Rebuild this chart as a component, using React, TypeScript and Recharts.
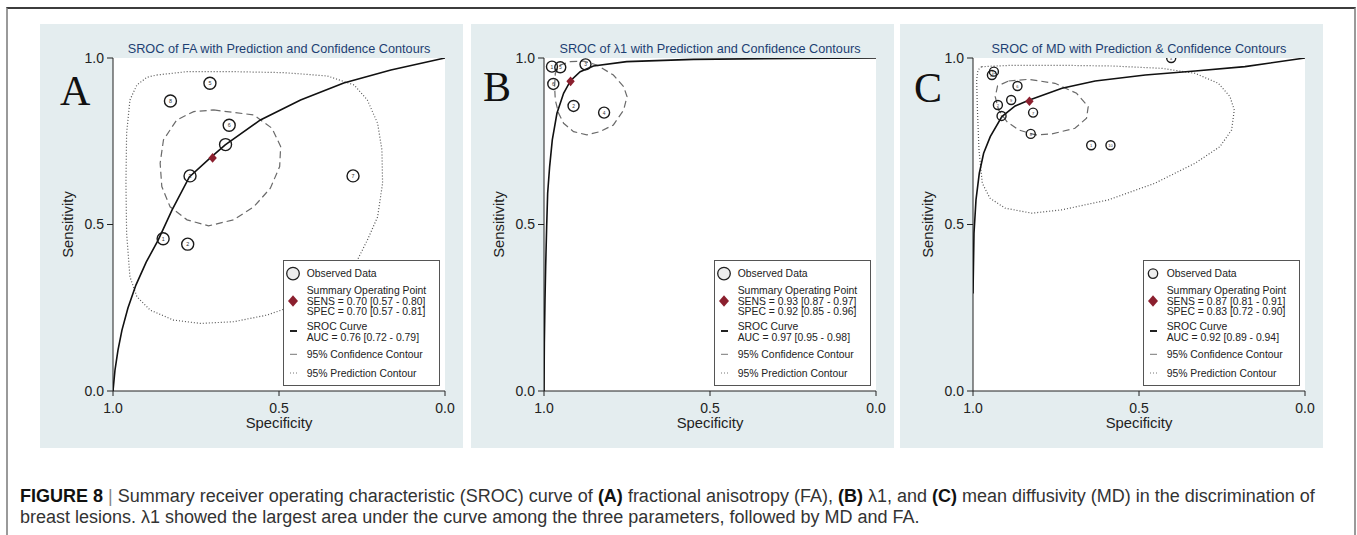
import React from 'react';
import { ScatterChart, Scatter, XAxis, YAxis } from 'recharts';

type Pt = { spec: number; sens: number; id?: string };

const axisTicks = [0, 0.5, 1];

// ---- panel A: FA ----
const obsA: Pt[] = [
  { id: '1', spec: 0.849, sens: 0.457 },
  { id: '2', spec: 0.775, sens: 0.441 },
  { id: '3', spec: 0.768, sens: 0.646 },
  { id: '', spec: 0.661, sens: 0.74 },
  { id: '5', spec: 0.708, sens: 0.924 },
  { id: '6', spec: 0.65, sens: 0.798 },
  { id: '7', spec: 0.277, sens: 0.646 },
  { id: '8', spec: 0.827, sens: 0.871 },
];
const summaryA: Pt[] = [{ spec: 0.7, sens: 0.7 }];
const curveA: Pt[] = [
  { spec: 1.0, sens: 0.0 }, { spec: 0.994, sens: 0.063 }, { spec: 0.985, sens: 0.123 },
  { spec: 0.973, sens: 0.183 }, { spec: 0.955, sens: 0.249 }, { spec: 0.931, sens: 0.318 },
  { spec: 0.9, sens: 0.387 }, { spec: 0.864, sens: 0.453 }, { spec: 0.822, sens: 0.544 },
  { spec: 0.77, sens: 0.643 }, { spec: 0.707, sens: 0.7 }, { spec: 0.662, sens: 0.739 },
  { spec: 0.556, sens: 0.814 }, { spec: 0.435, sens: 0.874 }, { spec: 0.305, sens: 0.925 },
  { spec: 0.163, sens: 0.964 }, { spec: 0.0, sens: 1.0 },
];
const confA: Pt[] = [
  { spec: 0.697, sens: 0.844 }, { spec: 0.576, sens: 0.829 }, { spec: 0.521, sens: 0.789 },
  { spec: 0.495, sens: 0.734 }, { spec: 0.498, sens: 0.674 }, { spec: 0.526, sens: 0.609 },
  { spec: 0.576, sens: 0.553 }, { spec: 0.637, sens: 0.514 }, { spec: 0.712, sens: 0.496 },
  { spec: 0.777, sens: 0.514 }, { spec: 0.828, sens: 0.553 }, { spec: 0.853, sens: 0.614 },
  { spec: 0.858, sens: 0.684 }, { spec: 0.848, sens: 0.754 }, { spec: 0.808, sens: 0.814 },
  { spec: 0.757, sens: 0.839 },
];
const predA: Pt[] = [
  { spec: 0.868, sens: 0.949 }, { spec: 0.777, sens: 0.959 }, { spec: 0.637, sens: 0.959 },
  { spec: 0.485, sens: 0.956 }, { spec: 0.354, sens: 0.946 }, { spec: 0.274, sens: 0.919 },
  { spec: 0.234, sens: 0.874 }, { spec: 0.203, sens: 0.804 }, { spec: 0.19, sens: 0.724 },
  { spec: 0.188, sens: 0.624 }, { spec: 0.203, sens: 0.523 }, { spec: 0.234, sens: 0.453 },
  { spec: 0.264, sens: 0.393 }, { spec: 0.334, sens: 0.323 }, { spec: 0.435, sens: 0.263 },
  { spec: 0.536, sens: 0.228 }, { spec: 0.637, sens: 0.208 }, { spec: 0.737, sens: 0.203 },
  { spec: 0.818, sens: 0.213 }, { spec: 0.888, sens: 0.243 }, { spec: 0.928, sens: 0.283 },
  { spec: 0.949, sens: 0.343 }, { spec: 0.959, sens: 0.474 }, { spec: 0.961, sens: 0.624 },
  { spec: 0.959, sens: 0.774 }, { spec: 0.949, sens: 0.874 }, { spec: 0.928, sens: 0.919 },
  { spec: 0.898, sens: 0.942 },
];
const legendA = ['SENS = 0.70 [0.57 - 0.80]', 'SPEC = 0.70 [0.57 - 0.81]', 'AUC = 0.76 [0.72 - 0.79]'];

// ---- panel B: lambda1 ----
const obsB: Pt[] = [
  { id: '1', spec: 0.976, sens: 0.974 },
  { id: '5', spec: 0.951, sens: 0.972 },
  { id: '6', spec: 0.972, sens: 0.922 },
  { id: '3', spec: 0.875, sens: 0.981 },
  { id: '2', spec: 0.911, sens: 0.856 },
  { id: '4', spec: 0.819, sens: 0.836 },
];
const summaryB: Pt[] = [{ spec: 0.92, sens: 0.93 }];
const curveB: Pt[] = [
  { spec: 1.0, sens: 0.0 }, { spec: 0.999, sens: 0.143 }, { spec: 0.997, sens: 0.273 },
  { spec: 0.995, sens: 0.373 }, { spec: 0.992, sens: 0.493 }, { spec: 0.989, sens: 0.594 },
  { spec: 0.983, sens: 0.674 }, { spec: 0.975, sens: 0.754 }, { spec: 0.961, sens: 0.834 },
  { spec: 0.941, sens: 0.894 }, { spec: 0.92, sens: 0.932 }, { spec: 0.891, sens: 0.959 },
  { spec: 0.851, sens: 0.976 }, { spec: 0.751, sens: 0.989 }, { spec: 0.55, sens: 0.996 },
  { spec: 0.249, sens: 0.999 }, { spec: 0.0, sens: 1.0 },
];
const confB: Pt[] = [
  { spec: 0.921, sens: 0.989 }, { spec: 0.881, sens: 0.991 }, { spec: 0.841, sens: 0.979 },
  { spec: 0.791, sens: 0.949 }, { spec: 0.76, sens: 0.914 }, { spec: 0.75, sens: 0.884 },
  { spec: 0.76, sens: 0.844 }, { spec: 0.791, sens: 0.799 }, { spec: 0.831, sens: 0.779 },
  { spec: 0.871, sens: 0.769 }, { spec: 0.911, sens: 0.779 }, { spec: 0.941, sens: 0.804 },
  { spec: 0.956, sens: 0.834 }, { spec: 0.966, sens: 0.874 }, { spec: 0.968, sens: 0.914 },
  { spec: 0.966, sens: 0.954 }, { spec: 0.951, sens: 0.979 },
];
const predB: Pt[] = [];
const legendB = ['SENS = 0.93 [0.87 - 0.97]', 'SPEC = 0.92 [0.85 - 0.96]', 'AUC = 0.97 [0.95 - 0.98]'];

// ---- panel C: MD ----
const obsC: Pt[] = [
  { id: '12', spec: 0.937, sens: 0.959 },
  { id: '11', spec: 0.943, sens: 0.949 },
  { id: '6', spec: 0.866, sens: 0.916 },
  { id: '9', spec: 0.885, sens: 0.874 },
  { id: '2', spec: 0.925, sens: 0.859 },
  { id: '3', spec: 0.914, sens: 0.826 },
  { id: '7', spec: 0.819, sens: 0.836 },
  { id: '8', spec: 0.826, sens: 0.772 },
  { id: '1', spec: 0.644, sens: 0.738 },
  { id: '10', spec: 0.586, sens: 0.738 },
  { id: '4', spec: 0.403, sens: 1.0 },
];
const summaryC: Pt[] = [{ spec: 0.83, sens: 0.87 }];
const curveC: Pt[] = [
  { spec: 1.0, sens: 0.293 }, { spec: 0.997, sens: 0.474 }, { spec: 0.991, sens: 0.574 },
  { spec: 0.981, sens: 0.654 }, { spec: 0.968, sens: 0.714 }, { spec: 0.948, sens: 0.764 },
  { spec: 0.913, sens: 0.824 }, { spec: 0.873, sens: 0.856 }, { spec: 0.83, sens: 0.874 },
  { spec: 0.732, sens: 0.909 }, { spec: 0.632, sens: 0.931 }, { spec: 0.481, sens: 0.949 },
  { spec: 0.331, sens: 0.961 }, { spec: 0.181, sens: 0.974 }, { spec: 0.0, sens: 1.0 },
];
const confC: Pt[] = [
  { spec: 0.893, sens: 0.931 }, { spec: 0.833, sens: 0.936 }, { spec: 0.753, sens: 0.924 },
  { spec: 0.688, sens: 0.894 }, { spec: 0.653, sens: 0.854 }, { spec: 0.658, sens: 0.819 },
  { spec: 0.693, sens: 0.789 }, { spec: 0.762, sens: 0.772 }, { spec: 0.812, sens: 0.769 },
  { spec: 0.863, sens: 0.784 }, { spec: 0.898, sens: 0.809 }, { spec: 0.923, sens: 0.844 },
  { spec: 0.933, sens: 0.884 }, { spec: 0.926, sens: 0.916 },
];
const predC: Pt[] = [
  { spec: 0.974, sens: 0.974 }, { spec: 0.883, sens: 0.978 }, { spec: 0.733, sens: 0.978 },
  { spec: 0.582, sens: 0.976 }, { spec: 0.432, sens: 0.969 }, { spec: 0.331, sens: 0.954 },
  { spec: 0.261, sens: 0.924 }, { spec: 0.226, sens: 0.884 }, { spec: 0.213, sens: 0.844 },
  { spec: 0.221, sens: 0.784 }, { spec: 0.256, sens: 0.734 }, { spec: 0.331, sens: 0.684 },
  { spec: 0.452, sens: 0.624 }, { spec: 0.592, sens: 0.574 }, { spec: 0.733, sens: 0.544 },
  { spec: 0.823, sens: 0.534 }, { spec: 0.903, sens: 0.549 }, { spec: 0.949, sens: 0.579 },
  { spec: 0.972, sens: 0.624 }, { spec: 0.982, sens: 0.724 }, { spec: 0.987, sens: 0.854 },
  { spec: 0.989, sens: 0.934 }, { spec: 0.985, sens: 0.964 },
];
const legendC = ['SENS = 0.87 [0.81 - 0.91]', 'SPEC = 0.83 [0.72 - 0.90]', 'AUC = 0.92 [0.89 - 0.94]'];

const BG = '#e4edef';
const TITLE = '#1d3f73';
const RED = '#8b1f2e';
const SANS = '"Liberation Sans", Arial, Helvetica, sans-serif';

const W = 423;
const H = 424;
const PL = 73; // plot left inside panel
const PT = 34;
const PW = 332;
const PH = 333;

const hidden = () => <g />;

function Diamond({ cx, cy, s }: { cx: number; cy: number; s: number }) {
  return (
    <polygon
      points={`${cx},${cy - s * 1.15} ${cx + s},${cy} ${cx},${cy + s * 1.15} ${cx - s},${cy}`}
      fill={RED}
    />
  );
}

function Legend({ lines, r }: { lines: string[]; r: number }) {
  const fs = 10.4;
  const tx = 23.7;
  const t = (cy: number) => cy + 3.7;
  return (
    <svg
      width={157}
      height={126}
      style={{ position: 'absolute', left: PL + 170, top: 236, fontFamily: SANS }}
    >
      <rect x={0.5} y={0.5} width={156} height={125} fill="#fff" stroke="#555" strokeWidth={1} />
      <circle cx={10} cy={13.6} r={r} fill="#eee" stroke="#222" strokeWidth={1.3} />
      <text x={tx} y={t(13.6)} fontSize={fs} fill="#222">Observed Data</text>
      <Diamond cx={10} cy={41} s={5} />
      <text x={tx} y={t(30.3)} fontSize={fs} fill="#222">Summary Operating Point</text>
      <text x={tx} y={t(41)} fontSize={fs} fill="#222">{lines[0]}</text>
      <text x={tx} y={t(51.6)} fontSize={fs} fill="#222">{lines[1]}</text>
      <line x1={7} x2={14} y1={71} y2={71} stroke="#222" strokeWidth={2} />
      <text x={tx} y={t(66.3)} fontSize={fs} fill="#222">SROC Curve</text>
      <text x={tx} y={t(77)} fontSize={fs} fill="#222">{lines[2]}</text>
      <line x1={7} x2={14} y1={94.3} y2={94.3} stroke="#777" strokeWidth={1} />
      <text x={tx} y={t(94.3)} fontSize={fs} fill="#222">95% Confidence Contour</text>
      <line x1={7} x2={14} y1={113} y2={113} stroke="#777" strokeWidth={1} strokeDasharray="1 2" />
      <text x={tx} y={t(113)} fontSize={fs} fill="#222">95% Prediction Contour</text>
    </svg>
  );
}

function Panel(props: {
  left: number;
  letter: string;
  letterX: number;
  letterY: number;
  title: string;
  obs: Pt[];
  summary: Pt[];
  curve: Pt[];
  conf: Pt[];
  pred: Pt[];
  legend: string[];
  r: number;
  legendR: number;
}) {
  const { left, letter, letterX, letterY, title, obs, summary, curve, conf, pred, legend, r, legendR } = props;
  const close = (a: Pt[]) => (a.length ? [...a, a[0]] : a);
  const obsShape = (p: any) => (
    <g>
      <circle cx={p.cx} cy={p.cy} r={r} fill="none" stroke="#1a1a1a" strokeWidth={1.4} />
      {p.payload.id ? (
        <text x={p.cx} y={p.cy + 2} fontSize={r * 0.9} textAnchor="middle" fill="#333">
          {p.payload.id}
        </text>
      ) : null}
    </g>
  );
  return (
    <div style={{ position: 'absolute', left, top: 24, width: W, height: H, background: BG }}>
      <div style={{ position: 'absolute', left: PL, top: PT, width: PW, height: PH, background: '#fff' }} />
      <div style={{ position: 'absolute', left: 0, top: 0 }}>
        <ScatterChart width={W} height={H} margin={{ top: PT, right: W - PL - PW, bottom: 17, left: 23 }}>
          <XAxis
            type="number"
            dataKey="spec"
            domain={[0, 1]}
            reversed
            ticks={axisTicks}
            interval={0}
            allowDataOverflow
            tickFormatter={(v: number) => v.toFixed(1)}
            tick={{ fontSize: 14, fill: '#222' }}
            tickSize={5}
            tickMargin={7}
            height={40}
            axisLine={{ stroke: '#222' }}
            tickLine={{ stroke: '#222' }}
          />
          <YAxis
            type="number"
            dataKey="sens"
            domain={[0, 1]}
            ticks={axisTicks}
            interval={0}
            allowDataOverflow
            tickFormatter={(v: number) => v.toFixed(1)}
            tick={{ fontSize: 14, fill: '#222' }}
            tickSize={6}
            tickMargin={3}
            width={50}
            axisLine={{ stroke: '#222' }}
            tickLine={{ stroke: '#222' }}
          />
          {pred.length ? (
            <Scatter
              data={close(pred)}
              line={{ stroke: '#555', strokeWidth: 1.2, strokeDasharray: '1 2' }}
              shape={hidden}
              isAnimationActive={false}
            />
          ) : null}
          <Scatter
            data={close(conf)}
            line={{ stroke: '#6a6a6a', strokeWidth: 1.2, strokeDasharray: '7 4' }}
            shape={hidden}
            isAnimationActive={false}
          />
          <Scatter
            data={curve}
            line={{ stroke: '#111', strokeWidth: 1.6 }}
            shape={hidden}
            isAnimationActive={false}
          />
          <Scatter data={obs} shape={obsShape} isAnimationActive={false} />
          <Scatter
            data={summary}
            shape={(p: any) => <Diamond cx={p.cx} cy={p.cy} s={4.2} />}
            isAnimationActive={false}
          />
        </ScatterChart>
      </div>
      <svg width={W} height={H} style={{ position: 'absolute', left: 0, top: 0, fontFamily: SANS, pointerEvents: 'none' }}>
        <text x={letterX} y={letterY} fontSize={42} fontFamily='"Liberation Serif", "Times New Roman", serif' fill="#111">
          {letter}
        </text>
        <text x={PL + PW / 2} y={28.7} fontSize={12.7} textAnchor="middle" fill={TITLE}>
          {title}
        </text>
        <text x={PL + PW / 2} y={404} fontSize={14.8} textAnchor="middle" fill="#222">
          Specificity
        </text>
        <text transform={`translate(${PL - 39.7},${PT + PH / 2}) rotate(-90)`} fontSize={14.8} textAnchor="middle" fill="#222">
          Sensitivity
        </text>
      </svg>
      <Legend lines={legend} r={legendR} />
    </div>
  );
}

export default function App() {
  return (
    <div style={{ position: 'absolute', left: 0, top: 0, width: 1357, height: 535, background: '#fff', overflow: 'hidden', fontFamily: SANS }}>
      <div
        style={{
          position: 'absolute',
          left: 6,
          top: 7,
          width: 1346,
          height: 540,
          borderTop: '2px solid #3c3c3c',
          borderLeft: '2px solid #9a9a9a',
          borderRight: '2px solid #9a9a9a',
        }}
      />
      <Panel
        left={40}
        letter="A"
        letterX={20}
        letterY={81}
        title="SROC of FA with Prediction and Confidence Contours"
        obs={obsA}
        summary={summaryA}
        curve={curveA}
        conf={confA}
        pred={predA}
        legend={legendA}
        r={6}
        legendR={6.3}
      />
      <Panel
        left={471}
        letter="B"
        letterX={12}
        letterY={76.7}
        title="SROC of λ1 with Prediction and Confidence Contours"
        obs={obsB}
        summary={summaryB}
        curve={curveB}
        conf={confB}
        pred={predB}
        legend={legendB}
        r={5.5}
        legendR={6.3}
      />
      <Panel
        left={900}
        letter="C"
        letterX={14}
        letterY={77.7}
        title="SROC of MD with Prediction & Confidence Contours"
        obs={obsC}
        summary={summaryC}
        curve={curveC}
        conf={confC}
        pred={predC}
        legend={legendC}
        r={4.5}
        legendR={4.7}
      />
      <div
        style={{
          position: 'absolute',
          left: 20,
          top: 486,
          fontFamily: SANS,
          fontSize: 18,
          lineHeight: '21px',
          color: '#333',
          whiteSpace: 'nowrap',
        }}
      >
        <b style={{ color: '#111' }}>FIGURE 8</b> <span style={{ color: '#888' }}>|</span> Summary receiver operating
        characteristic (SROC) curve of <b style={{ color: '#111' }}>(A)</b> fractional anisotropy (FA),{' '}
        <b style={{ color: '#111' }}>(B)</b> λ1, and <b style={{ color: '#111' }}>(C)</b> mean diffusivity (MD) in the
        discrimination of
        <br />
        breast lesions. λ1 showed the largest area under the curve among the three parameters, followed by MD and FA.
      </div>
    </div>
  );
}
